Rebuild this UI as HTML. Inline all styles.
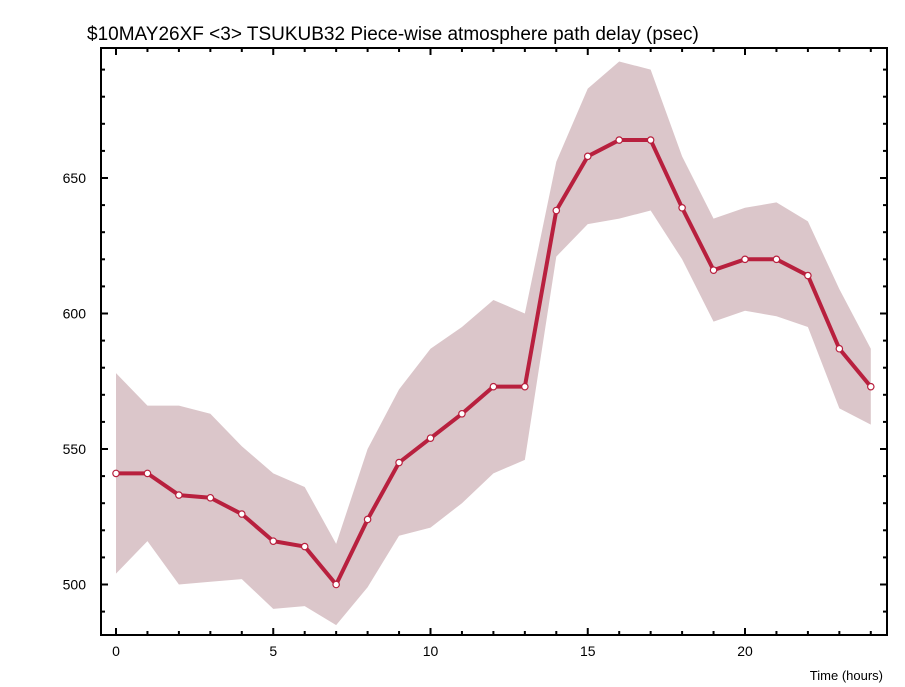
<!DOCTYPE html>
<html><head><meta charset="utf-8"><style>
html,body{margin:0;padding:0;background:#fff;}
svg{display:block;font-family:"Liberation Sans",sans-serif;}
</style></head><body>
<svg id="chart" width="905" height="687" viewBox="0 0 905 687">
<text x="87" y="40" font-size="19" fill="#000">$10MAY26XF &lt;3&gt;  TSUKUB32  Piece-wise atmosphere path delay (psec)</text>
<g id="band"></g>
<g id="axes"></g>
<g id="series"></g>
<text x="883" y="680" font-size="13" text-anchor="end">Time (hours)</text>
</svg>
<script>
const hours = [0,1,2,3,4,5,6,7,8,9,10,11,12,13,14,15,16,17,18,19,20,21,22,23,24];
const delay = [541,541,533,532,526,516,514,500,524,545,554,563,573,573,638,658,664,664,639,616,620,620,614,587,573];
const upper = [578,566,566,563,551,541,536,515,550,572,587,595,605,600,656,683,693,690,658,635,639,641,634,609,587];
const lower = [504,516,500,501,502,491,492,485,499,518,521,530,541,546,621,633,635,638,620,597,601,599,595,565,559];
const xTicks = [0,5,10,15,20];
const yTicks = [500,550,600,650];
const L=101,R=887,T=48,B=635;
const sx = v => 116 + v*31.45;
const sy = v => 178 + (650 - v)*2.71;
const NS="http://www.w3.org/2000/svg";
function mk(tag, attrs, parent){const e=document.createElementNS(NS,tag);for(const k in attrs)e.setAttribute(k,attrs[k]);parent.appendChild(e);return e;}
const band=document.getElementById('band'), axes=document.getElementById('axes'), ser=document.getElementById('series');
let pts = hours.map((h,i)=>sx(h)+','+sy(upper[i])).concat(hours.slice().reverse().map((h,j)=>{const i=hours.length-1-j;return sx(h)+','+sy(lower[i]);}));
const poly=mk('polygon',{points:pts.join(' '),fill:'#dbc6ca'},band);


const frame=mk('rect',{x:L,y:T,width:R-L,height:B-T,fill:'none',stroke:'#000','stroke-width':2},axes);


for(let h=0;h<=24.5;h+=1){const x=sx(h);const len=(h%5===0)?7:4;
 mk('line',{x1:x,y1:B,x2:x,y2:B-len,stroke:'#000','stroke-width':2},axes);
 mk('line',{x1:x,y1:T,x2:x,y2:T+len,stroke:'#000','stroke-width':2},axes);}
for(let v=480;v<=700;v+=10){const y=sy(v);if(y<T||y>B)continue;const len=(v%50===0)?7:4;
 mk('line',{x1:L,y1:y,x2:L+len,y2:y,stroke:'#000','stroke-width':2},axes);
 mk('line',{x1:R,y1:y,x2:R-len,y2:y,stroke:'#000','stroke-width':2},axes);}
xTicks.forEach(t=>{const e=mk('text',{x:sx(t),y:656,'font-size':14,'text-anchor':'middle'},axes);e.textContent=t;
 
 });
yTicks.forEach(t=>{const e=mk('text',{x:86,y:sy(t)+5,'font-size':14,'text-anchor':'end'},axes);e.textContent=t;
 
 });
const line=mk('polyline',{points:hours.map((h,i)=>sx(h)+','+sy(delay[i])).join(' '),fill:'none',stroke:'#b8203e','stroke-width':4,'stroke-linejoin':'round'},ser);


hours.forEach((h,i)=>{const c=mk('circle',{cx:sx(h),cy:sy(delay[i]),r:3.2,fill:'#fff',stroke:'#b8203e','stroke-width':1.2},ser);
 
 });
</script>
</body></html>
